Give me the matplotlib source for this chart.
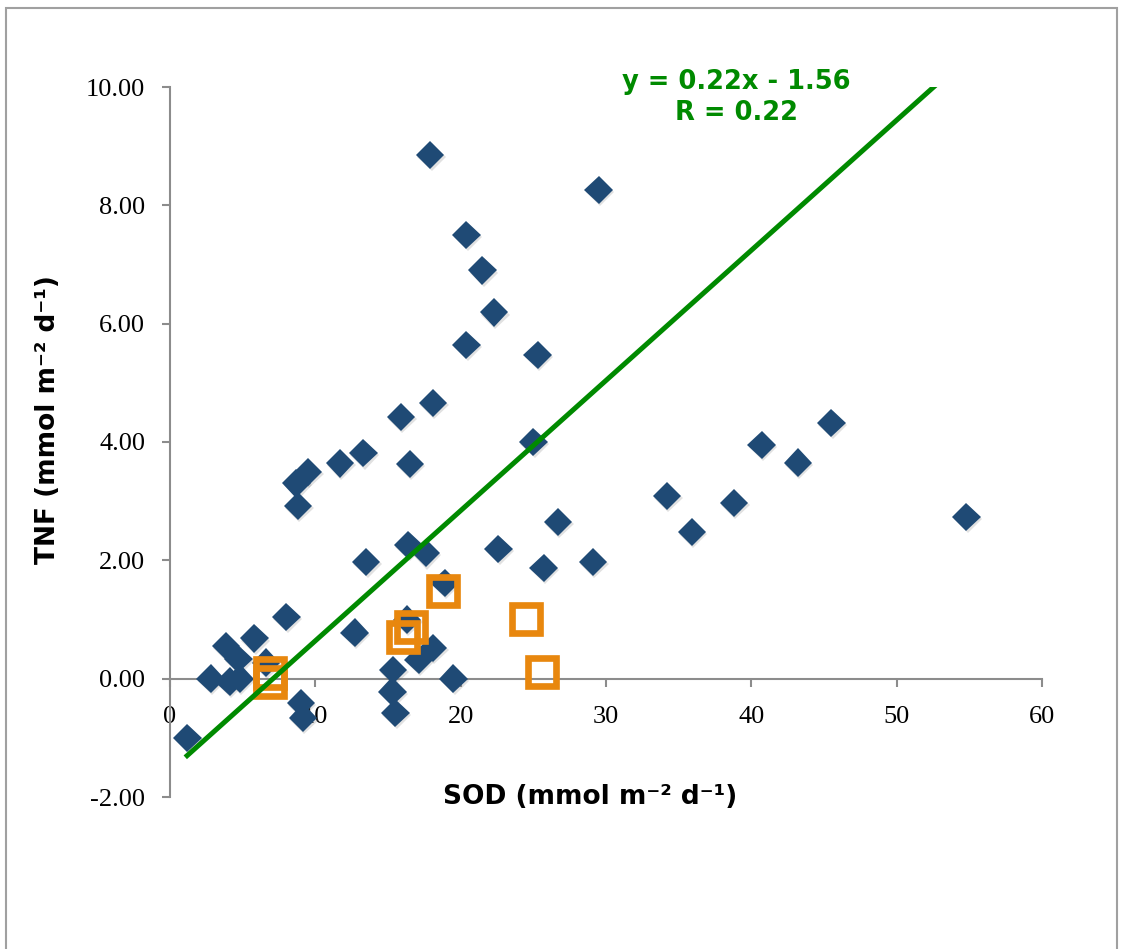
import matplotlib
matplotlib.use("Agg")
import matplotlib.pyplot as plt
import matplotlib.patheffects as pe
from matplotlib.patches import Rectangle
import numpy as np

# SOD vs TNF measurements (mmol m-2 d-1)
sod_main = [1.2, 2.8, 3.85, 4.1, 4.7, 4.8, 5.8, 6.6, 8.0, 9.0, 9.15, 8.7, 8.8, 9.5,
            11.7, 13.3, 15.9, 16.5, 18.1, 12.7, 13.5, 15.35, 15.3, 15.5, 16.3, 16.4,
            17.1, 17.6, 18.1, 18.9, 19.5, 17.9, 20.4, 21.5, 22.3, 20.4, 22.6, 25.0,
            25.3, 25.7, 26.7, 29.1, 29.5, 34.2, 35.9, 38.8, 40.7, 43.2, 45.5, 54.8]
tnf_main = [-1.0, 0.0, 0.55, -0.05, 0.33, 0.0, 0.68, 0.27, 1.04, -0.41, -0.66, 3.3, 2.92, 3.49,
            3.64, 3.81, 4.42, 3.63, 4.66, 0.78, 1.97, 0.15, -0.22, -0.58, 1.0, 2.26,
            0.32, 2.12, 0.52, 1.62, 0.0, 8.85, 7.5, 6.9, 6.19, 5.64, 2.19, 4.0,
            5.47, 1.87, 2.65, 1.97, 8.26, 3.09, 2.48, 2.97, 3.95, 3.65, 4.32, 2.73]

sod_open = [6.9, 6.9, 16.0, 16.6, 18.8, 24.5, 25.6]
tnf_open = [0.1, -0.05, 0.71, 0.88, 1.48, 1.01, 0.12]

# Linear fit shown on the chart
fit_slope = 0.22
fit_intercept = -1.56
fit_r = 0.22

x_ticks = [0, 10, 20, 30, 40, 50, 60]
y_ticks = [-2, 0, 2, 4, 6, 8, 10]

W, H = 1124, 949
fig = plt.figure(figsize=(W / 100, H / 100), dpi=100)
ax = fig.add_axes([170 / W, 1 - 797 / H, (1042 - 170) / W, (797 - 87) / H])

spine_gray = "#8C8C8C"
blue = "#1F4A75"
orange = "#E8870E"
green = "#008A00"

shadow = [pe.SimplePatchShadow(offset=(1.0, -1.5), shadow_rgbFace="#777777", alpha=0.22),
          pe.Normal()]
ax.plot(sod_main, tnf_main, linestyle="none", marker="D", markersize=14.5,
        color=blue, markeredgewidth=0, zorder=3, path_effects=shadow)
ax.plot(sod_open, tnf_open, linestyle="none", marker="s", markersize=20.5,
        markerfacecolor="none", markeredgecolor=orange, markeredgewidth=4.8, zorder=4)

xfit = np.array([1.05, max(sod_main)])
ax.plot(xfit, fit_slope * xfit + fit_intercept, color=green, lw=3.6,
        solid_capstyle="butt", zorder=5)

ax.set_xlim(0, 60)
ax.set_ylim(-2, 10)
ax.set_xticks(x_ticks)
ax.set_yticks(y_ticks)
ax.set_xticklabels([str(v) for v in x_ticks])
ax.set_yticklabels([f"{v:.2f}" for v in y_ticks])

for side in ("top", "right"):
    ax.spines[side].set_visible(False)
ax.spines["bottom"].set_position(("data", 0))
for side in ("left", "bottom"):
    ax.spines[side].set_color(spine_gray)
    ax.spines[side].set_linewidth(1.5)
    ax.spines[side].set_zorder(2)

tick_font = {"family": "Liberation Serif", "size": 19}
ax.tick_params(axis="both", direction="out", length=6, width=1.5, color=spine_gray)
ax.tick_params(axis="y", pad=12)
ax.tick_params(axis="x", pad=14)
for lab in ax.get_xticklabels() + ax.get_yticklabels():
    lab.set_fontfamily(tick_font["family"])
    lab.set_fontsize(tick_font["size"])

label_kw = dict(fontsize=19, fontweight="bold", family="DejaVu Sans")
fig.text(590 / W, 1 - 797 / H, "SOD (mmol m\u207b\u00b2 d\u207b\u00b9)",
         ha="center", va="center", **label_kw)
fig.text(48 / W, 1 - 420 / H, "TNF (mmol m\u207b\u00b2 d\u207b\u00b9)",
         ha="center", va="center", rotation=90, **label_kw)

ax.text(39.0, 9.83, f"y = {fit_slope:.2f}x - {abs(fit_intercept):.2f}\nR = {fit_r:.2f}",
        ha="center", va="center", multialignment="center", linespacing=1.25,
        color=green, fontsize=18.5, fontweight="bold", family="DejaVu Sans",
        clip_on=False, zorder=6)

# Outer frame around the chart area
fig.patches.append(Rectangle((5.5 / W, -0.05), (1117 - 5.5) / W, 1.05 - 8 / H,
                             transform=fig.transFigure, fill=False,
                             edgecolor="#A0A0A0", linewidth=1.5))

fig.savefig("out.png", dpi=100)
